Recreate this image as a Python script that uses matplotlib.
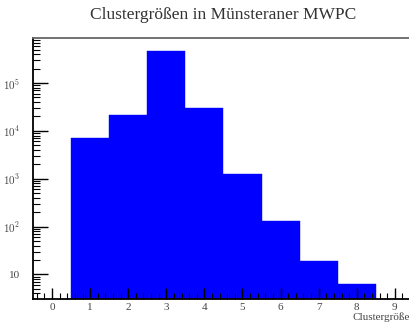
import numpy as np
import matplotlib
matplotlib.use("Agg")
import matplotlib.pyplot as plt
from matplotlib.ticker import FixedLocator, FuncFormatter, MultipleLocator

# cluster sizes and counts per bin
cluster_size = [1, 2, 3, 4, 5, 6, 7, 8]
counts = [7100, 21000, 470000, 30000, 1250, 130, 19, 6.2]

title = "Clustergrößen in Münsteraner MWPC"
xlabel = "Clustergröße"

plt.rcParams['font.family'] = ['Liberation Serif', 'DejaVu Serif']
plt.rcParams['mathtext.fontset'] = 'cm'

fig = plt.figure(figsize=(4.10, 3.24), dpi=100)
ax = fig.add_axes([0.0805, 0.077, 0.929, 0.807])

ax.bar(cluster_size, counts, width=1.0, bottom=1e-3, color='#0000ff',
       edgecolor='#0000ff', linewidth=0.3, zorder=1)

ax.set_yscale('log')
ax.set_xlim(-0.5, 9.5)
ax.set_ylim(3.06, 8.9e5)

# frame: black left/bottom, grey top
for side in ['left', 'bottom']:
    ax.spines[side].set_linewidth(1.3)
    ax.spines[side].set_color('black')
ax.spines['top'].set_linewidth(1.3)
ax.spines['top'].set_color('#666666')
ax.spines['right'].set_visible(False)

ax.xaxis.set_major_locator(MultipleLocator(1))
ax.xaxis.set_minor_locator(MultipleLocator(0.2))
ax.tick_params(axis='x', which='major', direction='in', length=8, width=1.0,
               pad=3, labelsize=8, labelcolor='#444444', top=False)
ax.tick_params(axis='x', which='minor', direction='in', length=4, width=0.8,
               top=False)

decades = [10, 100, 1000, 1e4, 1e5]
minors = [m * 10**k for k in range(0, 6) for m in range(2, 10)]
ax.yaxis.set_major_locator(FixedLocator(decades))
ax.yaxis.set_minor_locator(FixedLocator(minors))


def fmt(v, pos):
    k = int(round(np.log10(v)))
    if k == 1:
        return "10"
    return r"$10^{%d}$" % k


ax.yaxis.set_major_formatter(FuncFormatter(fmt))
ax.yaxis.set_minor_formatter(FuncFormatter(lambda v, p: ""))
ax.tick_params(axis='y', which='major', direction='in', length=11, width=1.0,
               pad=9, labelsize=8, labelcolor='#444444', right=False)
ax.tick_params(axis='y', which='minor', direction='in', length=5, width=0.8,
               right=False)

fig.text(0.545, 0.953, title, ha='center', va='center', fontsize=12.5,
         color='#333333')
fig.text(1.0, 0.02, xlabel, ha='right', va='center', fontsize=8,
         color='#444444')

fig.savefig('out.png', dpi=100)
